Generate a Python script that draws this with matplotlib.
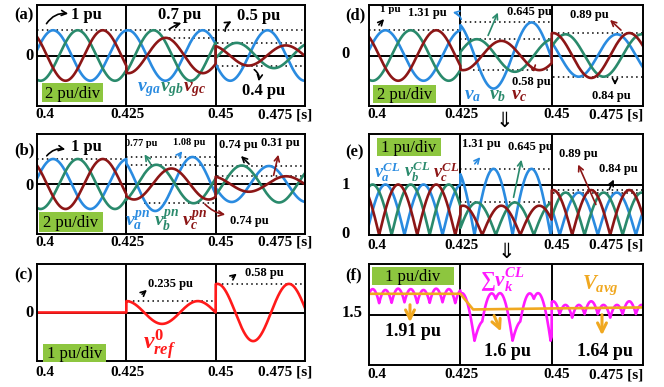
import numpy as np
import matplotlib
matplotlib.use('Agg')
import matplotlib.pyplot as plt
from matplotlib.patches import FancyArrowPatch, Rectangle

# ---- data ----
F_HZ = 48.0                        # fundamental, from the crest spacing
F0_HZ = 50.0                       # crest spacing of the zero sequence trace
EDGES = [0.4, 0.425, 0.45, 0.475]  # three intervals of the test

# (a) grid voltages: amplitude [pu] and time of one crest [s] per interval
vga_amp = [1.0, 1.0, 1.0]
vga_pk = [0.4045, 0.4255, 0.4645]
vgb_amp = [1.0, 1.0, 0.5]
vgb_pk = [0.4114, 0.4326, 0.4559]
vgc_amp = [1.0, 0.7, 0.4]
vgc_pk = [0.4184, 0.4360, 0.4696]

# (b) positive + negative sequence parts
vpa_amp = [1.0, 1.08, 0.72]
vpa_pk = [0.4045, 0.4435, 0.4649]
vpb_amp = [1.0, 0.77, 0.74]
vpb_pk = [0.4114, 0.4334, 0.4573]
vpc_amp = [1.0, 0.62, 0.31]
vpc_pk = [0.4184, 0.4376, 0.4697]

# (c) zero sequence reference
v0_amp = [0.0, 0.235, 0.59]
v0_pk = [0.4, 0.4250, 0.4505]

# (d) converter phase voltages
va_amp = [1.0, 1.31, 0.84]
va_pk = [0.4045, 0.4445, 0.4470]
vb_amp = [1.0, 0.645, 0.84]
vb_pk = [0.4114, 0.4295, 0.4538]
vc_amp = [1.0, 0.58, 0.89]
vc_pk = [0.4184, 0.4362, 0.4504]

# (f) average dc level
vavg_t = [0.4, 0.425, 0.4285, 0.45, 0.475]
vavg_v = [1.91, 1.91, 1.60, 1.62, 1.64]

W, H = 664, 387
plt.rcParams['font.family'] = 'Liberation Serif'
plt.rcParams['font.weight'] = 'bold'
plt.rcParams['mathtext.fontset'] = 'custom'
plt.rcParams['mathtext.it'] = 'Liberation Serif:italic:bold'
plt.rcParams['mathtext.rm'] = 'Liberation Serif:bold'
plt.rcParams['mathtext.bf'] = 'Liberation Serif:bold'

BLUE = '#2a8be0'
GREEN = '#2a8a6c'
DRED = '#8c1616'
RED = '#ff1a1a'
MAG = '#ff1aff'
ORANGE = '#f0a820'
BOXG = '#8dc63f'

t = np.linspace(0.4, 0.475, 4001)
seg = np.clip(np.searchsorted(EDGES, t, side='right') - 1, 0, 2)


def wave(amp, pk, f=F_HZ):
    a = np.array(amp)[seg]
    p = np.array(pk)[seg]
    return a * np.cos(2 * np.pi * f * (t - p))


vga, vgb, vgc = wave(vga_amp, vga_pk), wave(vgb_amp, vgb_pk), wave(vgc_amp, vgc_pk)
vpa, vpb, vpc = wave(vpa_amp, vpa_pk), wave(vpb_amp, vpb_pk), wave(vpc_amp, vpc_pk)
v0 = wave(v0_amp, v0_pk, F0_HZ)
va, vb, vc = wave(va_amp, va_pk), wave(vb_amp, vb_pk), wave(vc_amp, vc_pk)
vsum = np.abs(va) + np.abs(vb) + np.abs(vc)

fig = plt.figure(figsize=(W / 100, H / 100), dpi=100)


def fx(x):
    return x / W


def fy(y):
    return 1 - y / H


def make_ax(l, tp, r, b, ylim, yref):
    ax = fig.add_axes([fx(l), fy(b), fx(r - l), (b - tp) / H])
    ax.set_xlim(0.4, 0.475)
    ax.set_ylim(*ylim)
    ax.set_xticks([])
    ax.set_yticks([])
    for s in ax.spines.values():
        s.set_linewidth(1.4)
    for xv in (0.425, 0.45):
        ax.axvline(xv, color='k', lw=1.4, zorder=1)
    ax.axhline(yref, color='k', lw=1.4, zorder=1)
    ax.px = (l, r)
    return ax


def dots(ax, y, x0, x1):
    ax.plot([x0, x1], [y, y], color='k', lw=1.1, ls=(0, (1, 2.2)), zorder=1)


def txt(x, y, s, size=12, color='k', ha='center', weight='bold', style='normal', **kw):
    fig.text(fx(x), fy(y), s, size=size, color=color, ha=ha, va='center',
             weight=weight, style=style, **kw)


def arrow(x0, y0, x1, y1, color='k', rad=0.0, lw=1.2, ms=9):
    fig.add_artist(FancyArrowPatch((fx(x0), fy(y0)), (fx(x1), fy(y1)),
                                   transform=fig.transFigure, arrowstyle='->',
                                   connectionstyle=f'arc3,rad={rad}',
                                   color=color, lw=lw, mutation_scale=ms))


def divbox(l, tp, r, b, s):
    fig.add_artist(Rectangle((fx(l), fy(b)), fx(r - l), (b - tp) / H,
                             transform=fig.transFigure, color=BOXG, lw=0))
    txt((l + r) / 2, (tp + b) / 2 + 1, s, size=12, weight='normal')


def xlabels(ax, y, d45, d475):
    l, r = ax.px
    def px(v):
        return l + (v - 0.4) / 0.075 * (r - l)
    txt(px(0.4) - 2, y, '0.4', size=11, ha='left')
    txt(px(0.425) + 1, y, '0.425', size=11)
    txt(px(0.45) + d45, y, '0.45', size=11, ha='left')
    txt(px(0.475) + d475, y, '0.475 [s]', size=11, ha='right')


LW = 1.9
L0, L1 = 37, 305
R0, R1 = 369, 643

# ---------------- (a) ----------------
ax = make_ax(L0, 5, L1, 106, (-2, 2), 0)
dots(ax, 1, 0.4, 0.475)
dots(ax, 0.7, 0.4355, 0.45)
dots(ax, 0.5, 0.4505, 0.475)
dots(ax, -0.4, 0.4505, 0.475)
ax.plot(t, vga, color=BLUE, lw=LW)
ax.plot(t, vgb, color=GREEN, lw=LW)
ax.plot(t, vgc, color=DRED, lw=LW)
xlabels(ax, 115, -8, 7)
txt(24, 15, '(a)', size=12)
txt(30, 56, '0', size=12)
txt(86, 15, '1 pu', size=12)
arrow(45, 26, 71, 14, rad=-0.35)
txt(180, 15, '0.7 pu', size=12)
arrow(167, 31, 184, 22, rad=-0.1)
txt(259, 16, '0.5 pu', size=12)
arrow(225, 34, 234, 20, rad=-0.35)
txt(264, 91, '0.4 pu', size=12)
arrow(252, 68, 258, 84, rad=-0.4)
txt(149, 90, r'$v_{ga}$', size=14, color=BLUE)
txt(172, 90, r'$v_{gb}$', size=14, color=GREEN)
txt(195, 90, r'$v_{gc}$', size=14, color=DRED)
divbox(42, 83, 103, 102, '2 pu/div')

# ---------------- (b) ----------------
ax = make_ax(L0, 134, L1, 234, (-2, 2), 0)
dots(ax, 1, 0.4, 0.425)
dots(ax, 1.08, 0.425, 0.45)
dots(ax, 0.77, 0.425, 0.45)
dots(ax, -0.74, 0.43, 0.45)
dots(ax, 0.74, 0.4505, 0.475)
dots(ax, 0.31, 0.4505, 0.475)
ax.plot(t, vpa, color=BLUE, lw=LW)
ax.plot(t, vpb, color=GREEN, lw=LW)
ax.plot(t, vpc, color=DRED, lw=LW)
xlabels(ax, 242, -8, 7)
txt(24, 150, '(b)', size=12)
txt(30, 186, '0', size=12)
txt(86, 147, '1 pu', size=12)
arrow(45, 158, 68, 150, rad=-0.35)
txt(141, 143, '0.77 pu', size=7.5)
arrow(152, 166, 143, 152, color=GREEN)
txt(189, 142, '1.08 pu', size=7.5)
arrow(177, 158, 184, 149, color=BLUE)
txt(238, 145, '0.74 pu', size=9)
arrow(251, 166, 239, 154)
txt(280, 143, '0.31 pu', size=9)
arrow(273, 178, 279, 152, color=DRED)
txt(249, 221, '0.74 pu', size=9)
arrow(203, 202, 228, 215, color=DRED, rad=0.2)
txt(138, 221, r'$v_a^{pn}$', size=14, color=BLUE)
txt(167, 221, r'$v_b^{pn}$', size=14, color=GREEN)
txt(195, 221, r'$v_c^{pn}$', size=14, color=DRED)
divbox(39, 212, 103, 232, '2 pu/div')

# ---------------- (c) ----------------
ax = make_ax(L0, 264, L1, 361, (-1, 1), 0)
dots(ax, 0.235, 0.4255, 0.45)
dots(ax, 0.58, 0.4505, 0.475)
ax.plot(t, v0, color=RED, lw=LW)
xlabels(ax, 372, -8, 7)
txt(24, 275, '(c)', size=12)
txt(30, 313, '0', size=12)
txt(170, 284, '0.235 pu', size=9)
arrow(140, 296, 149, 288)
txt(264, 273, '0.58 pu', size=9)
arrow(230, 279, 239, 272)
txt(160, 345, r'$v_{ref}^{0}$', size=17, color=RED)
divbox(43, 344, 106, 362, '1 pu/div')

# ---------------- (d) ----------------
ax = make_ax(R0, 5, R1, 106, (-2, 2), 0)
dots(ax, 1, 0.4, 0.425)
dots(ax, 1.31, 0.425, 0.45)
dots(ax, 0.645, 0.425, 0.45)
dots(ax, -0.58, 0.4285, 0.45)
dots(ax, 0.89, 0.4505, 0.475)
dots(ax, -0.84, 0.4505, 0.475)
ax.plot(t, va, color=BLUE, lw=LW)
ax.plot(t, vb, color=GREEN, lw=LW)
ax.plot(t, vc, color=DRED, lw=LW)
xlabels(ax, 115, -8, 0)
txt(355, 15, '(d)', size=12)
txt(345, 54, '0', size=12)
txt(390, 10, '1 pu', size=8)
arrow(377, 27, 386, 17)
txt(427, 13, '1.31 pu', size=9)
arrow(462, 22, 450, 12, color=BLUE, rad=0.4)
txt(529, 12, '0.645 pu', size=9)
arrow(487, 38, 499, 10, color=GREEN)
txt(531, 82, '0.58 pu', size=9)
arrow(529, 68, 534, 75, color=DRED, rad=-0.5)
txt(589, 15, '0.89 pu', size=9)
arrow(623, 32, 608, 18, color=DRED)
txt(611, 96, '0.84 pu', size=9)
arrow(615, 78, 615, 88)
txt(473, 95, r'$v_a$', size=14, color=BLUE)
txt(498, 95, r'$v_b$', size=14, color=GREEN)
txt(519, 95, r'$v_c$', size=14, color=DRED)
divbox(373, 85, 436, 103, '2 pu/div')
txt(504, 121, '\u21d3', size=15, family='DejaVu Sans', weight='normal')

# ---------------- (e) ----------------
ax = make_ax(R0, 134, R1, 235, (0, 2), 1)
dots(ax, 1.31, 0.425, 0.45)
dots(ax, 0.645, 0.425, 0.45)
dots(ax, 0.89, 0.4505, 0.475)
dots(ax, 0.84, 0.4505, 0.475)
ax.plot(t, np.abs(va), color=BLUE, lw=LW)
ax.plot(t, np.abs(vb), color=GREEN, lw=LW)
ax.plot(t, np.abs(vc), color=DRED, lw=LW)
xlabels(ax, 245, -8, 0)
txt(355, 152, '(e)', size=12)
txt(346, 185, '1', size=12)
txt(346, 234, '0', size=12)
txt(481, 144, '1.31 pu', size=9)
arrow(473, 166, 482, 155, color=BLUE)
txt(530, 147, '0.645 pu', size=9)
arrow(513, 200, 522, 157, color=GREEN)
txt(578, 154, '0.89 pu', size=9)
arrow(597, 207, 577, 162, color=DRED)
txt(618, 169, '0.84 pu', size=9)
arrow(608, 192, 615, 177)
txt(387, 172, r'$v_a^{CL}$', size=13, color=BLUE)
txt(417, 172, r'$v_b^{CL}$', size=13, color=GREEN)
txt(446, 172, r'$v_c^{CL}$', size=13, color=DRED)
divbox(377, 138, 441, 156, '1 pu/div')
txt(506, 252, '\u21d3', size=15, family='DejaVu Sans', weight='normal')

# ---------------- (f) ----------------
ax = make_ax(R0, 264, R1, 365, (0.5, 2.5), 1.5)
ax.plot(t, vsum, color=MAG, lw=LW)
ax.plot(vavg_t, vavg_v, color=ORANGE, lw=LW)
xlabels(ax, 375, -8, 0)
txt(354, 275, '(f)', size=12)
txt(352, 313, '1.5', size=12)
txt(413, 332, '1.91 pu', size=13)
arrow(410, 302, 410, 325, color=ORANGE, lw=2.2, ms=16)
txt(507, 351, '1.6 pu', size=13)
arrow(493, 313, 502, 334, color=ORANGE, lw=2.2, ms=16)
txt(605, 351, '1.64 pu', size=13)
arrow(602, 312, 602, 338, color=ORANGE, lw=2.2, ms=16)
txt(502, 280, r'$\sum v_k^{CL}$', size=15, color=MAG)
txt(600, 285, r'$V_{avg}$', size=15, color=ORANGE)
divbox(372, 267, 454, 285, '1 pu/div')

fig.savefig('out.png', dpi=100)
